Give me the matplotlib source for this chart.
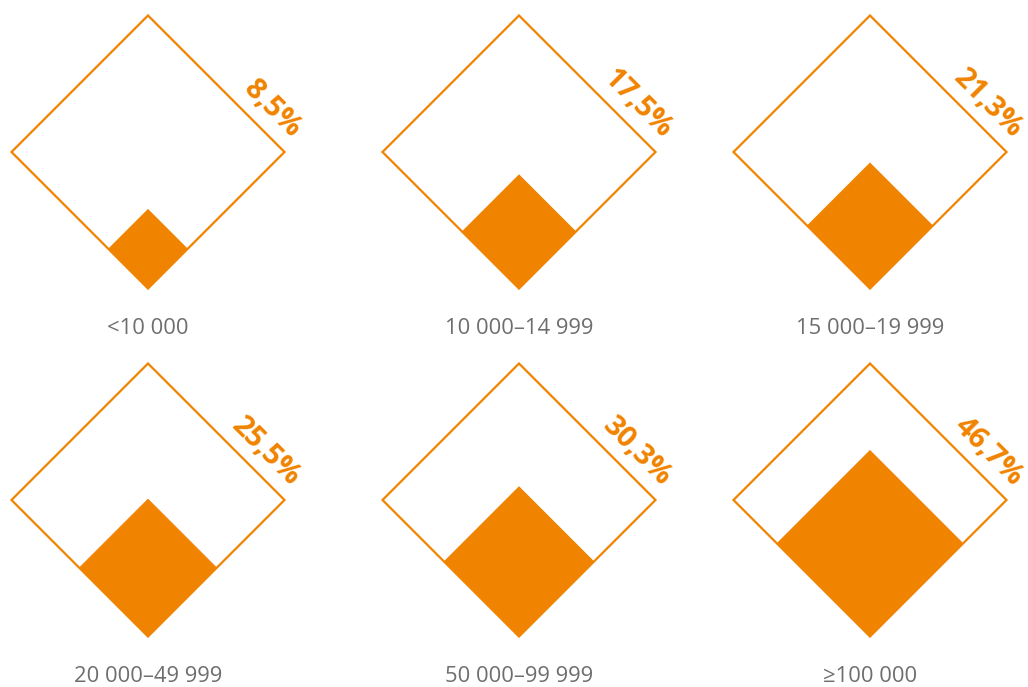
import numpy as np
import matplotlib.pyplot as plt
from matplotlib.patches import Polygon

# income groups and share (%)
groups = ['<10 000', '10 000–14 999', '15 000–19 999',
          '20 000–49 999', '50 000–99 999', '≥100 000']
shares = [8.5, 17.5, 21.3, 25.5, 30.3, 46.7]

orange = '#F08300'
grey = '#6E6E6E'

# layout in pixel coordinates
col_x = [148, 519, 870]
row_y = [152, 500]
half = 136.5

fig = plt.figure(figsize=(10.28, 6.87), dpi=100)
ax = fig.add_axes([0, 0, 1, 1])
ax.set_xlim(0, 1028)
ax.set_ylim(687, 0)
ax.axis('off')

s2 = np.sqrt(2)
for i, (name, v) in enumerate(zip(groups, shares)):
    cx = col_x[i % 3]
    cy = row_y[i // 3]

    # outer diamond = 100%
    outer = [(cx, cy - half), (cx + half, cy), (cx, cy + half), (cx - half, cy)]
    ax.add_patch(Polygon(outer, closed=True, fill=False, edgecolor=orange,
                         linewidth=1.6, joinstyle='miter'))

    # inner diamond, area proportional to share, same bottom vertex
    h = half * np.sqrt(v / 100.0)
    icy = cy + half - h
    inner = [(cx, icy - h), (cx + h, icy), (cx, icy + h), (cx - h, icy)]
    ax.add_patch(Polygon(inner, closed=True, facecolor=orange,
                         edgecolor='none'))

    # percentage along upper right edge
    back, out = 5, 14
    px = cx + half - back / s2 + out / s2
    py = cy - back / s2 - out / s2
    ax.text(px, py, f'{v:.1f}'.replace('.', ',') + '%', rotation=-45,
            rotation_mode='anchor', ha='right', va='baseline',
            fontsize=21, fontweight='bold', color=orange,
            family=['Open Sans', 'DejaVu Sans'])

    # group label
    ax.text(cx, cy + half + 40, name, ha='center',
            va='center', fontsize=15.8, color=grey,
            family=['Open Sans', 'DejaVu Sans'])

fig.savefig('out.png', dpi=100)
